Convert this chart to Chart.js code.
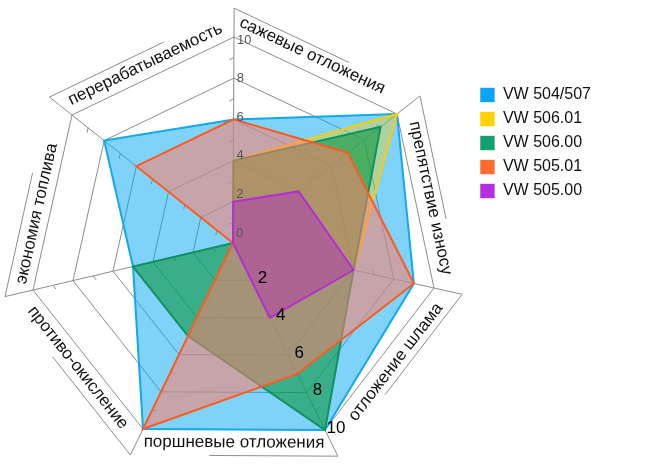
<!DOCTYPE html>
<html>
<head>
<meta charset="utf-8">
<script src="https://cdn.jsdelivr.net/npm/chart.js@4.4.1/dist/chart.umd.min.js"></script>
<style>
  html, body { margin: 0; padding: 0; background: #fff; }
</style>
</head>
<body>
<canvas id="chart" width="650" height="473"></canvas>
<script>
// ---------- DATA ----------
const categories = ['сажевые отложения', 'препятствие износу', 'отложение шлама', 'поршневые отложения',
  'противо-окисление', 'экономия топлива', 'перерабатываемость'];
const seriesNames = ['VW 504/507', 'VW 506.01', 'VW 506.00', 'VW 505.01', 'VW 505.00'];
const vw504_507 = [6, 10, 9, 10, 10, 5, 8];
const vw506_01 = [4, 10, 6, 4, 0, 0, 0];
const vw506_00 = [4, 9, 6, 10, 5, 5, 0];
const vw505_01 = [6, 7, 9, 7, 10, 0, 6];
const vw505_00 = [2, 4, 6, 4, 0, 0, 0];
const axisTicks = [0, 2, 4, 6, 8, 10];
const bottomTicks = [2, 4, 6, 8, 10];
const minorTicks = [1, 3, 5, 7, 9];

// ---------- LAYOUT ----------
// the web is drawn in perspective: each spoke gets its own end point (value 10), relative to the centre
const CENTER = [233, 243];
const SPOKES = [[1, -206], [164, -129], [201, 45], [92, 187], [-90, 186], [-200, 47], [-161, -128]];
const BAND = 11.4; // outer edge of the label band, in axis units
const LABEL_SHIFT = [[-9, -8], [2, 0], [6, -5], [0, 0], [0, 0], [-3, 14], [-2, 0]];
const GRID = '#8c8c8c';
const FONT = "'Liberation Sans', Arial, sans-serif";

const colors = {
  stroke: ['#12a8ee', '#ffcc00', '#0f9160', '#ff5a1e', '#b02fd8'],
  fill: ['rgba(0,168,245,0.5)', 'rgba(255,210,0,0.35)', 'rgba(10,150,60,0.6)', 'rgba(255,125,105,0.55)', 'rgba(175,45,200,0.45)'],
  legend: ['#0aa5f5', '#ffd200', '#13a070', '#ff6a2e', '#b52ee0']
};

Chart.defaults.font.family = FONT;

// radial scale whose spokes follow the SPOKES vectors instead of a regular polygon
class SkewRadialScale extends Chart.RadialLinearScale {
  fit() {
    this.xCenter = CENTER[0];
    this.yCenter = CENTER[1];
    this.drawingArea = 206;
  }
  getPointPosition(index, distanceFromCenter) {
    const s = SPOKES[index % SPOKES.length];
    const f = distanceFromCenter / this.drawingArea;
    return { x: this.xCenter + s[0] * f, y: this.yCenter + s[1] * f, angle: 0 };
  }
}
SkewRadialScale.id = 'skewRadial';
SkewRadialScale.defaults = Chart.RadialLinearScale.defaults;
Chart.register(SkewRadialScale);

function strokeLine(ctx, a, b) {
  ctx.beginPath();
  ctx.moveTo(a.x, a.y);
  ctx.lineTo(b.x, b.y);
  ctx.stroke();
}

const perspectiveDecor = {
  id: 'perspectiveDecor',
  beforeDatasetsDraw(chart) {
    const ctx = chart.ctx;
    const scale = chart.scales.r;
    const n = categories.length;
    const at = (i, v) => scale.getPointPositionForValue(i, v);
    const c = { x: scale.xCenter, y: scale.yCenter };
    ctx.save();
    ctx.strokeStyle = GRID;
    ctx.lineWidth = 1;

    // spokes, carried on to the label band
    for (let i = 0; i < n; i++) strokeLine(ctx, c, at(i, BAND));

    // outer line of each label band (only part of the way)
    for (let i = 0; i < n; i++) {
      const a = at(i, BAND), b = at((i + 1) % n, BAND);
      strokeLine(ctx, a, { x: a.x + (b.x - a.x) * 0.62, y: a.y + (b.y - a.y) * 0.62 });
    }

    // small ticks at odd values
    for (let i = 0; i < n; i++) {
      const prev = (i + n - 1) % n;
      minorTicks.forEach(v => {
        const p = at(i, v), q = at(prev, v);
        const len = Math.hypot(q.x - p.x, q.y - p.y);
        strokeLine(ctx, p, { x: p.x + (q.x - p.x) / len * 5, y: p.y + (q.y - p.y) / len * 5 });
      });
    }

    // category labels, laid along the outer edge between two spokes
    ctx.fillStyle = '#111';
    ctx.font = '17px ' + FONT;
    ctx.textAlign = 'center';
    ctx.textBaseline = 'middle';
    categories.forEach((label, i) => {
      const j = (i + 1) % n;
      const a = at(i, 10), b = at(j, 10), a2 = at(i, BAND), b2 = at(j, BAND);
      const mx = (a.x + b.x + a2.x + b2.x) / 4 + LABEL_SHIFT[i][0];
      const my = (a.y + b.y + a2.y + b2.y) / 4 + LABEL_SHIFT[i][1];
      let ang = Math.atan2(b.y - a.y, b.x - a.x);
      if (ang > Math.PI / 2) ang -= Math.PI;
      if (ang < -Math.PI / 2) ang += Math.PI;
      ctx.save();
      ctx.translate(mx, my);
      ctx.rotate(ang);
      ctx.fillText(label, 0, 0);
      ctx.restore();
    });
    ctx.restore();
  },
  afterDatasetsDraw(chart) {
    const ctx = chart.ctx;
    const scale = chart.scales.r;
    const cy = scale.yCenter;
    ctx.save();
    ctx.textBaseline = 'middle';

    // value labels on the top spoke (slightly tighter than the grid, as in the picture)
    ctx.fillStyle = '#555';
    ctx.font = '13px ' + FONT;
    ctx.textAlign = 'left';
    axisTicks.forEach(v => {
      const p = scale.getPointPositionForValue(0, v);
      ctx.fillText(String(v), p.x + 3, cy - 10 + (p.y - cy) * 0.937);
    });

    // big value labels on the bottom spoke
    ctx.fillStyle = '#000';
    ctx.font = '17px ' + FONT;
    ctx.textAlign = 'center';
    bottomTicks.forEach(v => {
      const p = scale.getPointPositionForValue(3, v);
      ctx.fillText(String(v), p.x + 11, p.y - 2);
    });
    ctx.restore();
  }
};

// drawn bottom to top: 504/507 first, 505.00 last
const seriesValues = [vw504_507, vw506_01, vw506_00, vw505_01, vw505_00];
const drawOrder = [5, 4, 3, 2, 1];

new Chart(document.getElementById('chart'), {
  type: 'radar',
  data: {
    labels: categories,
    datasets: seriesNames.map((name, k) => ({
      label: name,
      data: seriesValues[k],
      order: drawOrder[k],
      borderColor: colors.stroke[k],
      backgroundColor: colors.fill[k],
      borderWidth: 2,
      fill: true,
      pointRadius: 0,
      pointHoverRadius: 0
    }))
  },
  options: {
    responsive: false,
    animation: false,
    layout: { padding: { top: 79, right: 49 } },
    elements: { line: { tension: 0, borderJoinStyle: 'miter' } },
    scales: {
      r: {
        type: 'skewRadial',
        min: 0,
        max: 10,
        ticks: { stepSize: 2, display: false },
        grid: { color: GRID, lineWidth: 1 },
        angleLines: { display: false },
        pointLabels: { display: false }
      }
    },
    plugins: {
      tooltip: { enabled: false },
      legend: {
        position: 'right',
        align: 'start',
        labels: {
          boxWidth: 15,
          boxHeight: 15,
          padding: 8,
          color: '#111',
          font: { size: 16 },
          sort: (a, b) => a.datasetIndex - b.datasetIndex,
          generateLabels(chart) {
            const items = Chart.defaults.plugins.legend.labels.generateLabels(chart);
            items.forEach(it => {
              it.fillStyle = colors.legend[it.datasetIndex];
              it.strokeStyle = 'rgba(255,255,255,0.6)';
              it.lineWidth = 1;
            });
            return items;
          }
        }
      }
    }
  },
  plugins: [perspectiveDecor]
});
</script>
</body>
</html>
